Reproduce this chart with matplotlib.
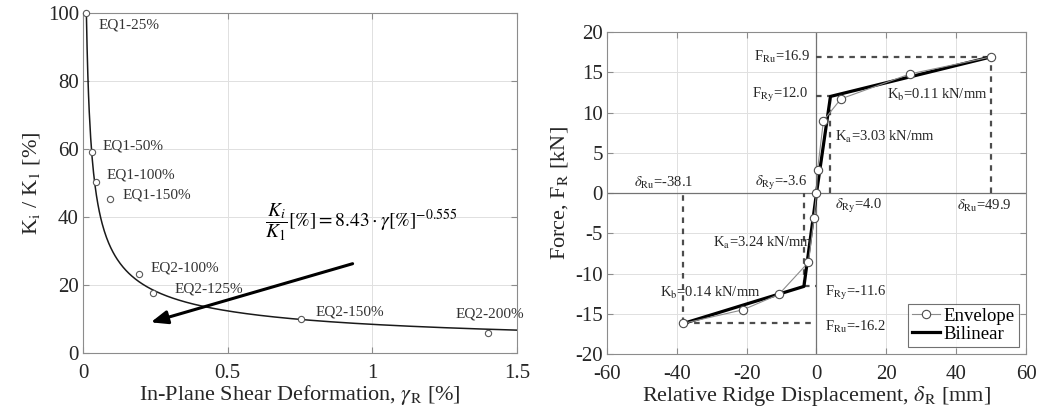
import matplotlib
matplotlib.use("Agg")
import matplotlib.pyplot as plt
import numpy as np
from matplotlib.ticker import FuncFormatter

plt.rcParams["font.family"] = ["Liberation Serif", "DejaVu Serif"]
plt.rcParams["mathtext.fontset"] = "stix"

# ---- left panel: stiffness degradation ----
gamma = [0.010, 0.031, 0.045, 0.093, 0.194, 0.242, 0.754, 1.40]
k_ratio = [100.0, 59.1, 50.3, 45.3, 23.2, 17.6, 10.0, 5.9]
eq_labels = ["EQ1-25%", "EQ1-50%", "EQ1-100%", "EQ1-150%",
             "EQ2-100%", "EQ2-125%", "EQ2-150%", "EQ2-200%"]
label_pos = [(0.052, 96.5), (0.069, 60.9), (0.083, 52.4), (0.135, 46.5),
             (0.235, 25.0), (0.318, 18.8), (0.803, 12.0), (1.287, 11.5)]
fit_a, fit_b = 8.43, -0.555

# ---- right panel: envelope + bilinear ----
env_x = [-38.1, -21.0, -10.8, -2.3, -0.7, 0.0, 0.3, 2.0, 7.0, 26.8, 49.9]
env_y = [-16.2, -14.5, -12.6, -8.6, -3.1, 0.0, 2.9, 9.0, 11.7, 14.8, 16.9]
bil_x = [-38.1, -3.6, 0.0, 4.0, 49.9]
bil_y = [-16.2, -11.6, 0.0, 12.0, 16.9]

GRID = "0.88"
SPINE = "0.55"
TXT = "0.15"


def style_axes(ax):
    for s in ax.spines.values():
        s.set_color(SPINE)
        s.set_linewidth(0.8)
    ax.tick_params(direction="in", top=True, right=True, length=4,
                   color=SPINE, labelsize=15, labelcolor=TXT)
    ax.tick_params(axis="x", pad=8)
    ax.tick_params(axis="y", pad=3)
    ax.grid(True, color=GRID, linewidth=0.7)
    ax.set_axisbelow(True)
    ax.xaxis.set_major_formatter(FuncFormatter(lambda v, p: f"{v:g}"))
    ax.yaxis.set_major_formatter(FuncFormatter(lambda v, p: f"{v:g}"))


fig = plt.figure(figsize=(10.39, 4.16), dpi=100)
ax1 = fig.add_axes([0.0799, 0.1514, 0.4177, 0.8173])
ax2 = fig.add_axes([0.5842, 0.149, 0.4033, 0.774])

# left
style_axes(ax1)
g_start = (100 / fit_a) ** (1 / fit_b)
gx = np.linspace(g_start, 1.5, 600)
ax1.plot(gx, fit_a * gx ** fit_b, color="0.1", linewidth=1.1, zorder=3)
ax1.plot(gamma, k_ratio, linestyle="none", marker="o", markersize=4.5,
         markerfacecolor="white", markeredgecolor="0.35", markeredgewidth=0.8,
         zorder=4, clip_on=False)
for lab, (lx, ly) in zip(eq_labels, label_pos):
    ax1.text(lx, ly, lab, fontsize=11, color="0.2", ha="left", va="center",
             clip_on=False)
ax1.text(0.63, 38.5, r"$\dfrac{K_i}{K_1}[\%] = 8.43 \cdot \gamma[\%]^{-0.555}$",
         fontsize=14, color="black", ha="left", va="center")
ax1.annotate("", xy=(0.225, 8.8), xytext=(0.941, 26.5),
             arrowprops=dict(arrowstyle="-|>,head_length=1.0,head_width=0.4",
                             color="black", linewidth=2.2))
ax1.set_xlim(0, 1.5)
ax1.set_ylim(0, 100)
ax1.set_xticks([0, 0.5, 1, 1.5])
ax1.set_yticks([0, 20, 40, 60, 80, 100])
ax1.set_xlabel(r"In-Plane Shear Deformation, $\gamma_{\rm R}$ [%]",
               fontsize=16, color=TXT, labelpad=0)
ax1.set_ylabel(r"K$_{\rm i}$ / K$_{\rm 1}$ [%]", fontsize=16, color=TXT,
               labelpad=4)

# right
style_axes(ax2)
ax2.axhline(0, color="0.45", linewidth=0.9, zorder=1)
ax2.axvline(0, color="0.45", linewidth=0.9, zorder=1)
dash = dict(color="0.3", linestyle=(0, (2.5, 2.5)), linewidth=1.6, zorder=2)
# reference lines at the key points of the bilinear fit
ax2.plot([0, bil_x[4]], [bil_y[4], bil_y[4]], **dash)
ax2.plot([bil_x[4], bil_x[4]], [0, bil_y[4]], **dash)
ax2.plot([0, bil_x[3]], [bil_y[3], bil_y[3]], **dash)
ax2.plot([bil_x[3], bil_x[3]], [0, bil_y[3]], **dash)
ax2.plot([bil_x[0], 0], [bil_y[0], bil_y[0]], **dash)
ax2.plot([bil_x[0], bil_x[0]], [bil_y[0], 0], **dash)
ax2.plot([bil_x[1], 0], [bil_y[1], bil_y[1]], **dash)
ax2.plot([bil_x[1], bil_x[1]], [bil_y[1], 0], **dash)

ax2.plot(env_x, env_y, color="0.55", linewidth=0.8, marker="o", markersize=6,
         markerfacecolor="white", markeredgecolor="0.3", markeredgewidth=0.8,
         label="Envelope", zorder=4)
ax2.plot(bil_x, bil_y, color="black", linewidth=2.3, label="Bilinear", zorder=3)

fs = 10.5
ax2.text(-1.9, 16.9, r"F$_{\rm Ru}$=16.9", fontsize=fs, ha="right", va="center", color=TXT)
ax2.text(-2.3, 12.2, r"F$_{\rm Ry}$=12.0", fontsize=fs, ha="right", va="center", color=TXT)
ax2.text(20.2, 12.2, r"K$_{\rm b}$=0.11 kN/mm", fontsize=fs, ha="left", va="center", color=TXT)
ax2.text(5.3, 7.0, r"K$_{\rm a}$=3.03 kN/mm", fontsize=fs, ha="left", va="center", color=TXT)
ax2.text(-52.2, 1.3, r"$\delta_{\rm Ru}$=-38.1", fontsize=fs, ha="left", va="center", color=TXT)
ax2.text(-17.6, 1.3, r"$\delta_{\rm Ry}$=-3.6", fontsize=fs, ha="left", va="center", color=TXT)
ax2.text(5.3, -1.6, r"$\delta_{\rm Ry}$=4.0", fontsize=fs, ha="left", va="center", color=TXT)
ax2.text(40.2, -1.6, r"$\delta_{\rm Ru}$=49.9", fontsize=fs, ha="left", va="center", color=TXT)
ax2.text(-29.7, -6.2, r"K$_{\rm a}$=3.24 kN/mm", fontsize=fs, ha="left", va="center", color=TXT)
ax2.text(-44.8, -12.4, r"K$_{\rm b}$=0.14 kN/mm", fontsize=fs, ha="left", va="center", color=TXT)
ax2.text(2.4, -12.4, r"F$_{\rm Ry}$=-11.6", fontsize=fs, ha="left", va="center", color=TXT)
ax2.text(2.4, -16.6, r"F$_{\rm Ru}$=-16.2", fontsize=fs, ha="left", va="center", color=TXT)

ax2.set_xlim(-60, 60)
ax2.set_ylim(-20, 20)
ax2.set_xticks(np.arange(-60, 61, 20))
ax2.set_yticks(np.arange(-20, 21, 5))
ax2.set_xlabel(r"Relative Ridge Displacement, $\delta_{\rm R}$ [mm]",
               fontsize=16, color=TXT, labelpad=0)
ax2.set_ylabel(r"Force, F$_{\rm R}$ [kN]", fontsize=16, color=TXT, labelpad=4)
leg = ax2.legend(loc="lower right", fontsize=13.5, frameon=True, fancybox=False,
                 edgecolor="0.3", handlelength=1.5, handletextpad=0.2,
                 borderpad=0.2, labelspacing=0.05, borderaxespad=0.4)
leg.get_frame().set_linewidth(0.8)

fig.savefig("out.png", dpi=100)
